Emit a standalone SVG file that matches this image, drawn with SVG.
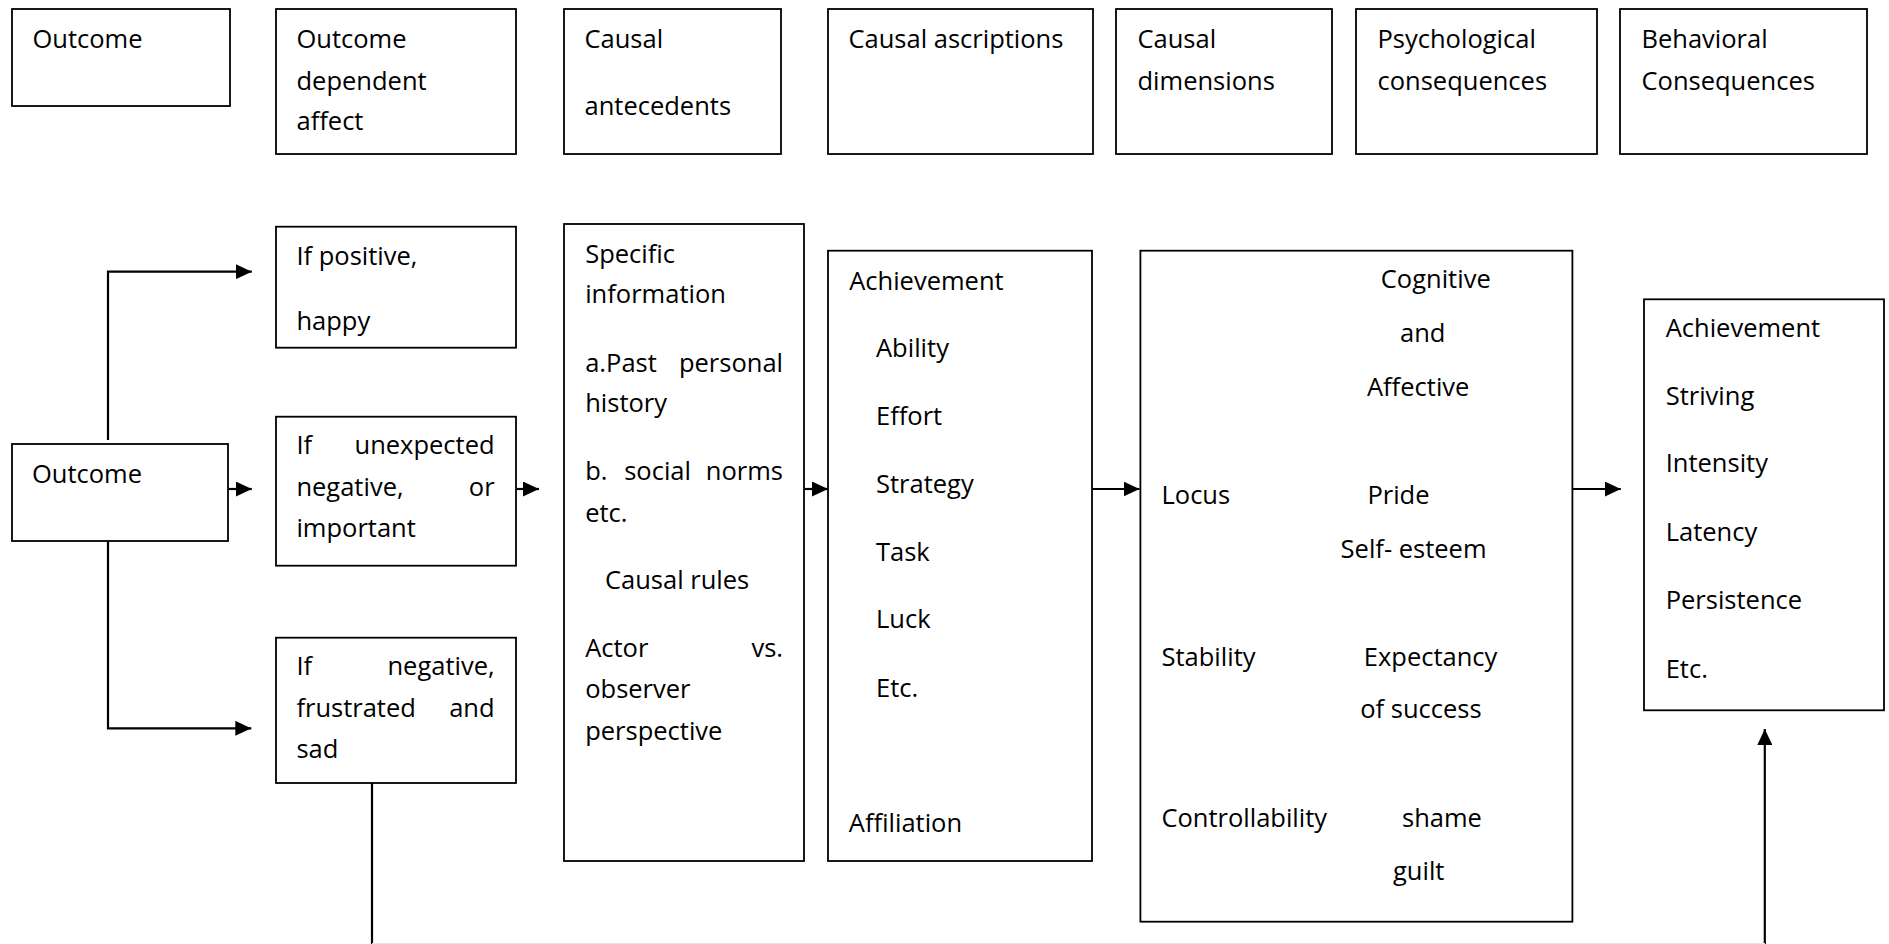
<svg xmlns="http://www.w3.org/2000/svg" width="1889" height="944" viewBox="0 0 1889 944">
<style>
  .box { fill: #ffffff; stroke: #000000; stroke-width: 1.8; }
  .t { font-family: "Open Sans", "Noto Sans", "Liberation Sans", sans-serif; font-size: 25.5px; fill: #000000; }
  .e { text-anchor: end; }
  .ln { fill: none; stroke: #000000; stroke-width: 2.2; }
</style>
<defs>
  <marker id="arr" viewBox="0 0 16 15" refX="16" refY="7.5" markerWidth="16" markerHeight="15" markerUnits="userSpaceOnUse" orient="auto">
    <path d="M0,0 L16,7.5 L0,15 Z" fill="#000000"/>
  </marker>
</defs>
<rect width="1889" height="944" fill="#ffffff"/>

<!-- Header row -->
<g id="h-outcome">
  <rect class="box" x="12" y="9" width="218" height="97"/>
  <text class="t" x="32.5" y="48">Outcome</text>
</g>
<g id="h-affect">
  <rect class="box" x="276" y="9" width="240" height="145"/>
  <text class="t" x="296.5" y="48">Outcome</text>
  <text class="t" x="296.5" y="90">dependent</text>
  <text class="t" x="296.5" y="130">affect</text>
</g>
<g id="h-antecedents">
  <rect class="box" x="564" y="9" width="217" height="145"/>
  <text class="t" x="584.5" y="48">Causal</text>
  <text class="t" x="584.5" y="115">antecedents</text>
</g>
<g id="h-ascriptions">
  <rect class="box" x="828" y="9" width="265" height="145"/>
  <text class="t" x="848.5" y="48">Causal ascriptions</text>
</g>
<g id="h-dimensions">
  <rect class="box" x="1116" y="9" width="216" height="145"/>
  <text class="t" x="1137.5" y="48">Causal</text>
  <text class="t" x="1137.5" y="90">dimensions</text>
</g>
<g id="h-psych">
  <rect class="box" x="1356" y="9" width="241" height="145"/>
  <text class="t" x="1377.5" y="48">Psychological</text>
  <text class="t" x="1377.5" y="90">consequences</text>
</g>
<g id="h-behav">
  <rect class="box" x="1620" y="9" width="247" height="145"/>
  <text class="t" x="1641.5" y="48">Behavioral</text>
  <text class="t" x="1641.5" y="90">Consequences</text>
</g>

<!-- Connectors -->
<g id="connectors">
  <polyline class="ln" points="108,440 108,271.7 251.8,271.7" marker-end="url(#arr)"/>
  <polyline class="ln" points="108,537 108,728.3 251.3,728.3" marker-end="url(#arr)"/>
  <line class="ln" x1="228" y1="489" x2="251.8" y2="489" marker-end="url(#arr)"/>
  <line class="ln" x1="516" y1="489" x2="539" y2="489" marker-end="url(#arr)"/>
  <line class="ln" x1="804" y1="489" x2="828" y2="489" marker-end="url(#arr)"/>
  <line class="ln" x1="1092" y1="489" x2="1139.5" y2="489" marker-end="url(#arr)"/>
  <line class="ln" x1="1572" y1="489" x2="1620.8" y2="489" marker-end="url(#arr)"/>
  <line class="ln" x1="372" y1="776" x2="372" y2="944"/>
  <line class="ln" x1="1764.8" y1="944" x2="1764.8" y2="729" marker-end="url(#arr)"/>
  <line x1="372" y1="943.5" x2="1765" y2="943.5" stroke="#e4e4e4" stroke-width="1"/>
</g>

<!-- Flow row -->
<g id="outcome">
  <rect class="box" x="12" y="444" width="216" height="97"/>
  <text class="t" x="32" y="482.7">Outcome</text>
</g>
<g id="positive">
  <rect class="box" x="276" y="226.7" width="240" height="121"/>
  <text class="t" x="296.4" y="265">If positive,</text>
  <text class="t" x="296.4" y="330">happy</text>
</g>
<g id="unexpected">
  <rect class="box" x="276" y="416.7" width="240" height="149"/>
  <text class="t" x="296.4" y="454.3">If</text>
  <text class="t e" x="494.6" y="454.3">unexpected</text>
  <text class="t" x="296.4" y="496">negative,</text>
  <text class="t e" x="494.6" y="496">or</text>
  <text class="t" x="296.4" y="537">important</text>
</g>
<g id="negative">
  <rect class="box" x="276" y="637.7" width="240" height="145.3"/>
  <text class="t" x="296.4" y="675">If</text>
  <text class="t e" x="494.6" y="675">negative,</text>
  <text class="t" x="296.4" y="716.7">frustrated</text>
  <text class="t e" x="494.6" y="716.7">and</text>
  <text class="t" x="296.4" y="757.7">sad</text>
</g>
<g id="antecedents">
  <rect class="box" x="564" y="224" width="240" height="637"/>
  <text class="t" x="585.2" y="263.3">Specific</text>
  <text class="t" x="585.2" y="303.3">information</text>
  <text class="t" x="585.2" y="371.7">a.Past</text>
  <text class="t e" x="783" y="371.7">personal</text>
  <text class="t" x="585.2" y="411.7">history</text>
  <text class="t" x="585.2" y="480">b.</text>
  <text class="t" x="624.2" y="480">social</text>
  <text class="t e" x="783" y="480">norms</text>
  <text class="t" x="585.2" y="521.7">etc.</text>
  <text class="t" x="605" y="589.3">Causal rules</text>
  <text class="t" x="585.2" y="656.7">Actor</text>
  <text class="t e" x="783" y="656.7">vs.</text>
  <text class="t" x="585.2" y="698.3">observer</text>
  <text class="t" x="585.2" y="739.5">perspective</text>
</g>
<g id="ascriptions">
  <rect class="box" x="828" y="250.7" width="264" height="610.3"/>
  <text class="t" x="849.2" y="290">Achievement</text>
  <text class="t" x="876" y="357.3">Ability</text>
  <text class="t" x="876" y="425">Effort</text>
  <text class="t" x="876" y="492.7">Strategy</text>
  <text class="t" x="876" y="560.7">Task</text>
  <text class="t" x="876" y="628.3">Luck</text>
  <text class="t" x="876" y="696.7">Etc.</text>
  <text class="t" x="848.8" y="832.3">Affiliation</text>
</g>
<g id="dimensions">
  <rect class="box" x="1140.4" y="250.7" width="432" height="671"/>
  <text class="t" x="1380.8" y="288.3">Cognitive</text>
  <text class="t" x="1400" y="342.3">and</text>
  <text class="t" x="1367" y="395.7">Affective</text>
  <text class="t" x="1161.5" y="504">Locus</text>
  <text class="t" x="1367.4" y="504">Pride</text>
  <text class="t" x="1340.6" y="557.7">Self- esteem</text>
  <text class="t" x="1161.5" y="666">Stability</text>
  <text class="t" x="1363.8" y="666">Expectancy</text>
  <text class="t" x="1360.2" y="718.3">of success</text>
  <text class="t" x="1161.4" y="826.7">Controllability</text>
  <text class="t" x="1402" y="826.7">shame</text>
  <text class="t" x="1393" y="880">guilt</text>
</g>
<g id="behavior">
  <rect class="box" x="1644" y="299.3" width="240" height="411"/>
  <text class="t" x="1665.7" y="337.3">Achievement</text>
  <text class="t" x="1665.7" y="405">Striving</text>
  <text class="t" x="1665.7" y="472.3">Intensity</text>
  <text class="t" x="1665.7" y="540.7">Latency</text>
  <text class="t" x="1665.7" y="609.3">Persistence</text>
  <text class="t" x="1665.7" y="677.7">Etc.</text>
</g>
</svg>
